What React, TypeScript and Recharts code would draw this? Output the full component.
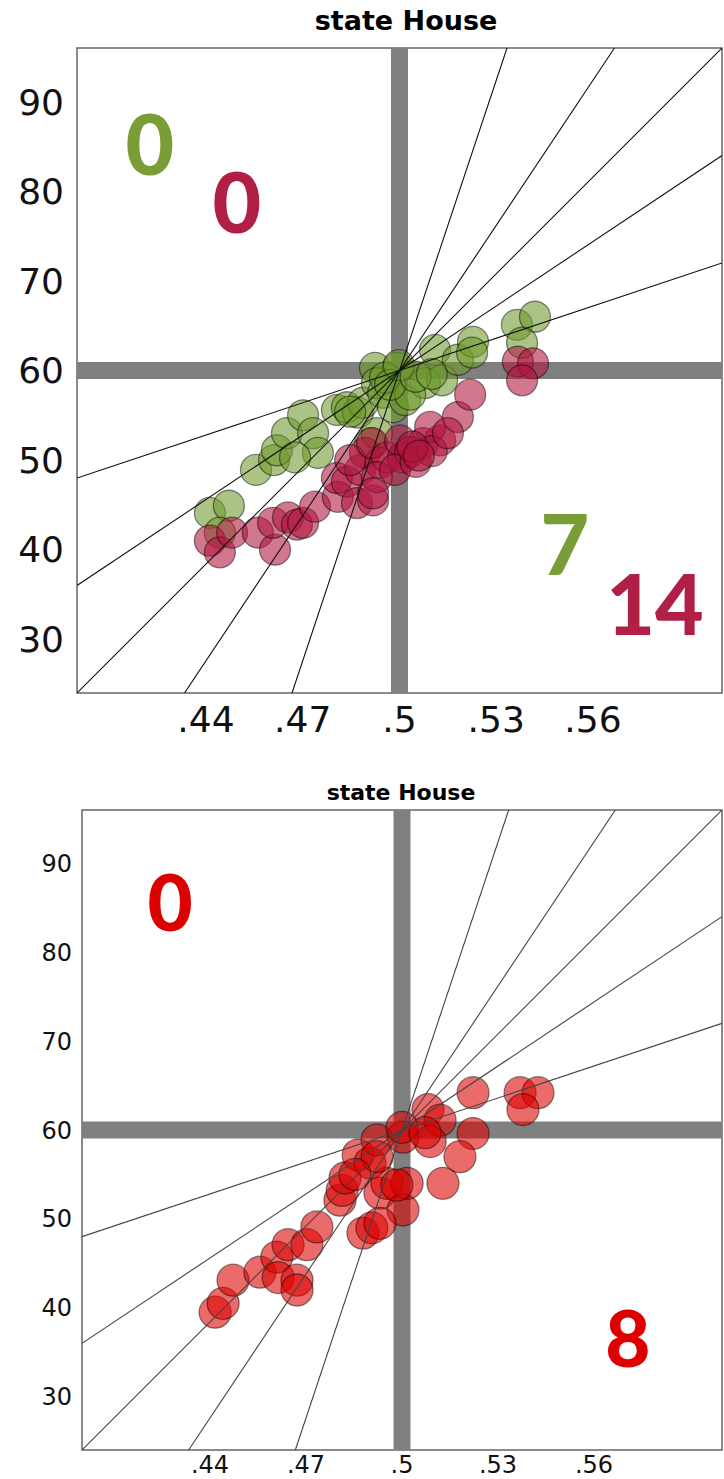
import {
  ReferenceArea,
  ReferenceDot,
  Scatter,
  ScatterChart,
  XAxis,
  YAxis,
} from "recharts";

// vote share (x) and seat share (y) per election, upper panel
const upperGreenVote = [
  0.4412, 0.4471, 0.4443, 0.4555, 0.4611, 0.462, 0.4651, 0.4701, 0.4732, 0.4747,
  0.4676, 0.4806, 0.4837, 0.4871, 0.4887, 0.4924, 0.493, 0.4949, 0.4909, 0.4995,
  0.498, 0.5017, 0.493, 0.5079, 0.5132, 0.511, 0.5181, 0.5228, 0.5225, 0.5364,
  0.542, 0.538, 0.4955, 0.5033, 0.4971, 0.4847, 0.4998, 0.505, 0.51,
];
const upperGreenSeats = [
  44.1, 44.9, 41.9, 48.9, 50.0, 51.1, 53.0, 55.0, 53.0, 50.8,
  50.3, 55.6, 55.9, 55.3, 56.4, 60.3, 58.6, 57.5, 51.9, 60.3,
  55.9, 56.7, 53.0, 58.6, 58.9, 62.3, 61.2, 63.2, 62.0, 65.1,
  66.0, 63.1, 59.2, 57.3, 58.4, 55.4, 60.6, 59.3, 59.6,
];
const upperRedVote = [
  0.4412, 0.4443, 0.4481, 0.4561, 0.4614, 0.4608, 0.4654, 0.4682, 0.4701, 0.4738,
  0.4809, 0.4806, 0.4837, 0.4878, 0.4868, 0.4918, 0.4893, 0.494, 0.4847, 0.4915,
  0.4961, 0.5011, 0.5002, 0.5073, 0.5126, 0.5095, 0.5181, 0.5219, 0.5367, 0.5414,
  0.538, 0.493, 0.4918, 0.5033, 0.4986, 0.505, 0.51, 0.504, 0.515, 0.506,
];
const upperRedSeats = [
  41.0, 39.7, 41.9, 41.9, 40.0, 43.0, 43.6, 42.8, 43.0, 44.8,
  45.9, 48.0, 47.6, 48.9, 45.2, 45.5, 50.8, 49.7, 50.0, 51.9,
  50.3, 50.3, 52.2, 51.9, 52.2, 53.7, 54.8, 57.3, 61.0, 60.8,
  58.9, 48.1, 46.3, 50.9, 48.9, 49.8, 51.0, 51.5, 53.0, 50.5,
];

// lower panel
const lowerVote = [
  0.4416, 0.4441, 0.4472, 0.4556, 0.4609, 0.4613, 0.4644, 0.4672, 0.4672, 0.4703,
  0.4734, 0.4806, 0.4813, 0.4822, 0.4863, 0.49, 0.4878, 0.4906, 0.4922, 0.4931,
  0.4953, 0.5222, 0.5369, 0.5425, 0.5378, 0.5081, 0.5119, 0.5222, 0.5088, 0.5003,
  0.5, 0.5181, 0.5128, 0.5003, 0.5016, 0.4984, 0.4931, 0.4922, 0.5072, 0.4853,
];
const lowerSeats = [
  39.5, 40.5, 43.1, 44.0, 45.7, 43.4, 47.1, 43.1, 42.0, 47.1,
  49.1, 52.1, 53.2, 54.6, 57.2, 56.3, 48.4, 49.0, 58.9, 52.9,
  54.0, 64.2, 64.2, 64.2, 62.3, 62.3, 61.1, 59.6, 58.7, 59.2,
  60.3, 57.0, 54.0, 51.0, 54.0, 53.8, 49.5, 57.0, 59.7, 55.0,
];

// swing ratios of the reference lines through (.5, 60)
const swingRatios = [1.2, 2.4, 3.6, 5.4, 10.8];

const xTicks = [0.44, 0.47, 0.5, 0.53, 0.56];
const yTicks = [30, 40, 50, 60, 70, 80, 90];

const X_DOMAIN: [number, number] = [0.4, 0.6];
const Y_DOMAIN: [number, number] = [24, 96];

type Pt = { x: number; y: number };

const zip = (xs: number[], ys: number[]): Pt[] => xs.map((x, i) => ({ x, y: ys[i] }));

function ratioSegment(r: number): Pt[] {
  const dx = Math.min(36 / (r * 100), 0.1);
  return [
    { x: 0.5 - dx, y: 60 - r * 100 * dx },
    { x: 0.5 + dx, y: 60 + r * 100 * dx },
  ];
}

const fmtShare = (v: number) => String(v).replace(/^0/, "");

type Series = { data: Pt[]; fill: string };
type Count = { x: number; y: number; text: string; color: string };

type PanelProps = {
  width: number;
  height: number;
  margin: { top: number; right: number; left: number; bottom: number };
  yAxisWidth: number;
  xAxisHeight: number;
  tickSize: number;
  xTickMargin: number;
  yTickMargin: number;
  series: Series[];
  counts: Count[];
  countSize: number;
  guideColor: string;
  radius: number;
};

function Panel(p: PanelProps) {
  const dot = (fill: string) => (props: any) => (
    <circle
      cx={props.cx}
      cy={props.cy}
      r={p.radius}
      fill={fill}
      fillOpacity={0.58}
      stroke="#000"
      strokeOpacity={0.45}
      strokeWidth={1.3}
    />
  );
  const noDot = () => <g />;
  const tick = { fill: "#111", fontSize: p.tickSize, fontFamily: "DejaVu Sans" };
  return (
    <ScatterChart width={p.width} height={p.height} margin={p.margin}>
      <XAxis
        type="number"
        dataKey="x"
        domain={X_DOMAIN}
        ticks={xTicks}
        tickFormatter={fmtShare}
        allowDataOverflow
        axisLine={false}
        tickLine={false}
        tickSize={0}
        tickMargin={p.xTickMargin}
        height={p.xAxisHeight}
        tick={tick}
      />
      <YAxis
        type="number"
        dataKey="y"
        domain={Y_DOMAIN}
        ticks={yTicks}
        allowDataOverflow
        axisLine={false}
        tickLine={false}
        tickSize={0}
        tickMargin={p.yTickMargin}
        width={p.yAxisWidth}
        tick={tick}
      />
      <ReferenceArea
        x1={0.4}
        x2={0.6}
        y1={24}
        y2={96}
        fill="none"
        stroke="#666"
        strokeWidth={1.5}
      />
      {/* 50% votes / 60% seats crosshair */}
      <Scatter
        data={[{ x: 0.5, y: 24 }, { x: 0.5, y: 96 }]}
        line={{ stroke: "#808080", strokeWidth: 17 }}
        shape={noDot}
        isAnimationActive={false}
      />
      <Scatter
        data={[{ x: 0.4, y: 60 }, { x: 0.6, y: 60 }]}
        line={{ stroke: "#808080", strokeWidth: 17 }}
        shape={noDot}
        isAnimationActive={false}
      />
      {p.series.map((s, i) => (
        <Scatter key={`s${i}`} data={s.data} shape={dot(s.fill)} isAnimationActive={false} />
      ))}
      {swingRatios.map((r) => (
        <Scatter
          key={`r${r}`}
          data={ratioSegment(r)}
          line={{ stroke: p.guideColor, strokeWidth: 1.1 }}
          shape={noDot}
          isAnimationActive={false}
        />
      ))}
      {p.counts.map((c, i) => (
        <ReferenceDot
          key={`c${i}`}
          x={c.x}
          y={c.y}
          r={0}
          fill="none"
          stroke="none"
          label={{
            value: c.text,
            position: "center",
            fill: c.color,
            fontSize: p.countSize,
            fontWeight: 900,
            fontFamily: "Lato",
          }}
        />
      ))}
    </ScatterChart>
  );
}

const titleStyle = (top: number, left: number, size: number): React.CSSProperties => ({
  position: "absolute",
  top,
  left,
  width: 0,
  display: "flex",
  justifyContent: "center",
  whiteSpace: "nowrap",
  fontFamily: "DejaVu Sans",
  fontWeight: "bold",
  fontSize: size,
  lineHeight: 1,
  color: "#000",
  zIndex: 2,
});

export default function App() {
  return (
    <div style={{ position: "absolute", left: 0, top: 0, width: 724, height: 1479, background: "#fff" }}>
      <div style={{ position: "absolute", left: 0, top: 0 }}>
        <Panel
          width={724}
          height={760}
          margin={{ top: 48, right: 2, left: 0, bottom: 0 }}
          yAxisWidth={77}
          xAxisHeight={67}
          tickSize={36}
          xTickMargin={13}
          yTickMargin={13}
          radius={15.5}
          guideColor="#111"
          countSize={84}
          series={[
            { data: zip(upperGreenVote, upperGreenSeats), fill: "#6f9a2c" },
            { data: zip(upperRedVote, upperRedSeats), fill: "#b0143c" },
          ]}
          counts={[
            { x: 0.4226, y: 85.2, text: "0", color: "#7a9e37" },
            { x: 0.4496, y: 78.7, text: "0", color: "#b01f45" },
            { x: 0.5513, y: 40.5, text: "7", color: "#7a9e37" },
            { x: 0.5792, y: 33.8, text: "14", color: "#b01f45" },
          ]}
        />
      </div>
      <div style={titleStyle(7, 406, 27)}>state House</div>
      <div style={{ position: "absolute", left: 0, top: 760 }}>
        <Panel
          width={724}
          height={719}
          margin={{ top: 50, right: 2, left: 0, bottom: 0 }}
          yAxisWidth={82}
          xAxisHeight={29}
          tickSize={24}
          xTickMargin={6}
          yTickMargin={10}
          radius={16}
          guideColor="#444"
          countSize={78}
          series={[{ data: zip(lowerVote, lowerSeats), fill: "#dd0000" }]}
          counts={[
            { x: 0.4275, y: 85.5, text: "0", color: "#dd0000" },
            { x: 0.5706, y: 36.4, text: "8", color: "#dd0000" },
          ]}
        />
      </div>
      <div style={titleStyle(782, 401, 22)}>state House</div>
    </div>
  );
}
